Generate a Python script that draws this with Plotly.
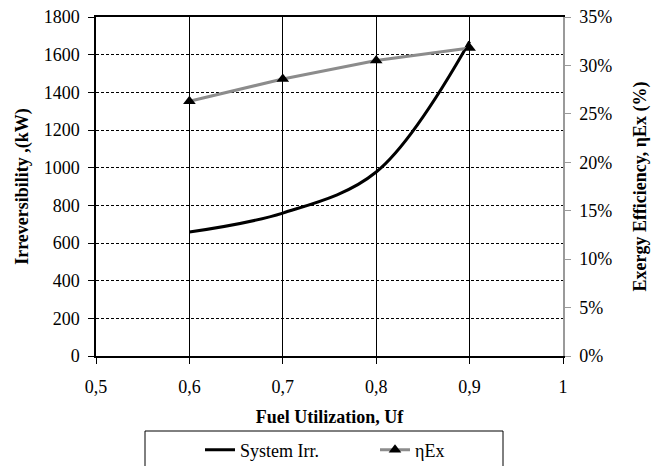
import plotly.graph_objects as go

# Fuel utilization values (x) and the two series
fuel_utilization = [0.6, 0.7, 0.8, 0.9]
system_irr_kw = [658, 759, 977, 1670]
exergy_eff_pct = [26.3, 28.6, 30.5, 31.8]

x_ticks = [0.5, 0.6, 0.7, 0.8, 0.9, 1.0]
x_tick_text = ["0,5", "0,6", "0,7", "0,8", "0,9", "1"]
y_left_ticks = list(range(0, 1801, 200))
y_right_ticks = list(range(0, 36, 5))
y_right_text = [f"{v}%" for v in y_right_ticks]

FONT = "Times New Roman, Liberation Serif, DejaVu Serif, serif"
FS = 18

fig = go.Figure()

fig.add_trace(go.Scatter(
    x=fuel_utilization, y=system_irr_kw, name="System Irr.",
    mode="lines", line=dict(color="black", width=3, shape="spline", smoothing=1.0),
    yaxis="y",
))
fig.add_trace(go.Scatter(
    x=fuel_utilization, y=exergy_eff_pct, name="ηEx",
    mode="lines+markers", line=dict(color="#8c8c8c", width=3),
    marker=dict(symbol="triangle-up", size=11, color="black"),
    yaxis="y2",
))

fig.update_layout(
    width=651, height=466,
    margin=dict(l=96, r=88, t=17, b=110, autoexpand=False),
    paper_bgcolor="white", plot_bgcolor="white",
    font=dict(family=FONT, size=FS, color="black"),
    showlegend=True,
    legend=dict(
        orientation="h", x=(200 - 96) / 467, xanchor="left", y=-0.223, yanchor="top",
        font=dict(family=FONT, size=FS), bgcolor="rgba(0,0,0,0)",
        borderwidth=0, itemwidth=30, entrywidth=130,
    ),
    xaxis=dict(
        range=[0.5, 1.0], tickmode="array", tickvals=x_ticks, ticktext=x_tick_text,
        showgrid=True, gridcolor="black", gridwidth=1,
        showline=True, linecolor="black", linewidth=1.5, mirror=True,
        ticks="outside", ticklen=6, tickcolor="black",
        ticklabelstandoff=8,
        zeroline=False,
        title=dict(text="<b>Fuel Utilization, Uf</b>", font=dict(family=FONT, size=FS), standoff=14),
    ),
    yaxis=dict(
        range=[0, 1800], tickmode="array", tickvals=y_left_ticks,
        showgrid=True, gridcolor="black", gridwidth=1, griddash="3px,2px",
        showline=True, linecolor="black", linewidth=1.5,
        ticks="outside", ticklen=6, tickcolor="black",
        ticklabelstandoff=5,
        zeroline=False,
        title=dict(text="<b>Irreversibility ,(kW)</b>", font=dict(family=FONT, size=FS), standoff=10),
    ),
    yaxis2=dict(
        range=[0, 35], tickmode="array", tickvals=y_right_ticks, ticktext=y_right_text,
        overlaying="y", side="right",
        showgrid=False, zeroline=False,
        showline=True, linecolor="#9a9a9a", linewidth=1.5,
        ticks="outside", ticklen=6, tickcolor="#9a9a9a",
        ticklabelstandoff=5,
        title=dict(text="<b>Exergy Efficiency, ηEx (%)</b>", font=dict(family=FONT, size=FS), standoff=26),
    ),
    shapes=[dict(
        type="rect", xref="paper", yref="paper",
        x0=(145 - 96) / 467, x1=(503 - 96) / 467,
        y0=-0.45, y1=-(431 - 356) / 339,
        line=dict(color="black", width=1), fillcolor="rgba(0,0,0,0)",
    )],
)

fig.write_html("out.html")
